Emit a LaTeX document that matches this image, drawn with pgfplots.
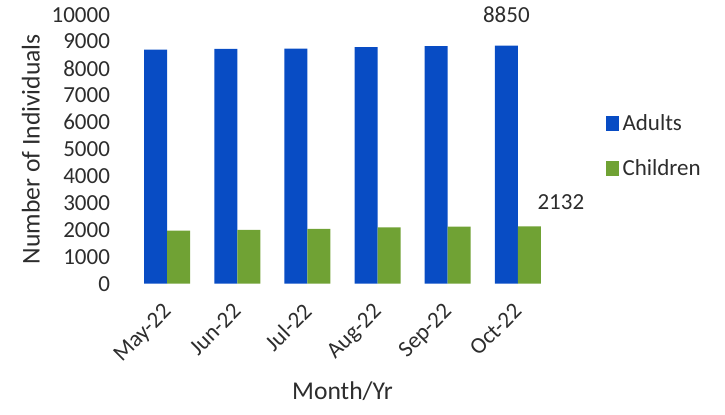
\documentclass[border=0pt]{standalone}
\usepackage{pgfplots}
\pgfplotsset{compat=1.18}
\usepackage{fontspec}
\setmainfont{Carlito}
\definecolor{adultblue}{RGB}{8,76,196}
\definecolor{childgreen}{RGB}{112,162,52}
\definecolor{txt}{RGB}{45,45,45}
\begin{document}
\begin{tikzpicture}
\begin{axis}[
    scale only axis,
    width=217.5pt, height=134.5pt,
    clip=false,
    ybar=0pt, bar width=11.5pt,
    xmin=-0.6, xmax=5.6,
    ymin=0, ymax=10000,
    ytick distance=1000,
    scaled y ticks=false,
    xtick=data,
    xticklabels={May-22,Jun-22,Jul-22,Aug-22,Sep-22,Oct-22},
    axis line style={draw=none},
    major tick length=0pt,
    /pgf/number format/assume math mode=true,
    /pgf/number format/1000 sep={},
    tick label style={font=\fontsize{11.5}{13}\selectfont, text=txt},
    yticklabel style={xshift=-4pt},
    xticklabel style={rotate=45, anchor=north east, yshift=-1pt, xshift=-5pt},
    ylabel={Number of Individuals},
    xlabel={Month/Yr},
    label style={font=\fontsize{12.8}{14}\selectfont, text=txt},
    ylabel style={yshift=-1pt},
    legend style={draw=none, at={(1.09,0.51)}, anchor=west,
        font=\fontsize{11.5}{13}\selectfont, text=txt,
        row sep=9pt},
    legend cell align=left,
    legend image code/.code={\fill[#1] (0pt,-3.5pt) rectangle (6.5pt,4pt);},
]
\addplot[draw=none, fill=adultblue] coordinates {
    (0,8700) (1,8730) (2,8740) (3,8790) (4,8830) (5,8850)
};
\addplot[draw=none, fill=childgreen] coordinates {
    (0,1970) (1,2000) (2,2040) (3,2090) (4,2120) (5,2132)
};
\legend{Adults, Children}
\node[font=\fontsize{11.5}{13}\selectfont, text=txt, anchor=south]
    at (axis cs:5,8850) [xshift=-5.75pt, yshift=8pt] {8850};
\node[font=\fontsize{11.5}{13}\selectfont, text=txt, anchor=south]
    at (axis cs:5,2132) [xshift=21.5pt, yshift=5pt] {2132};
\end{axis}
\path (current axis.south west) +(-62.5pt,-65.5pt)
      (current axis.south west) +(300pt,141.5pt);
\end{tikzpicture}
\end{document}
